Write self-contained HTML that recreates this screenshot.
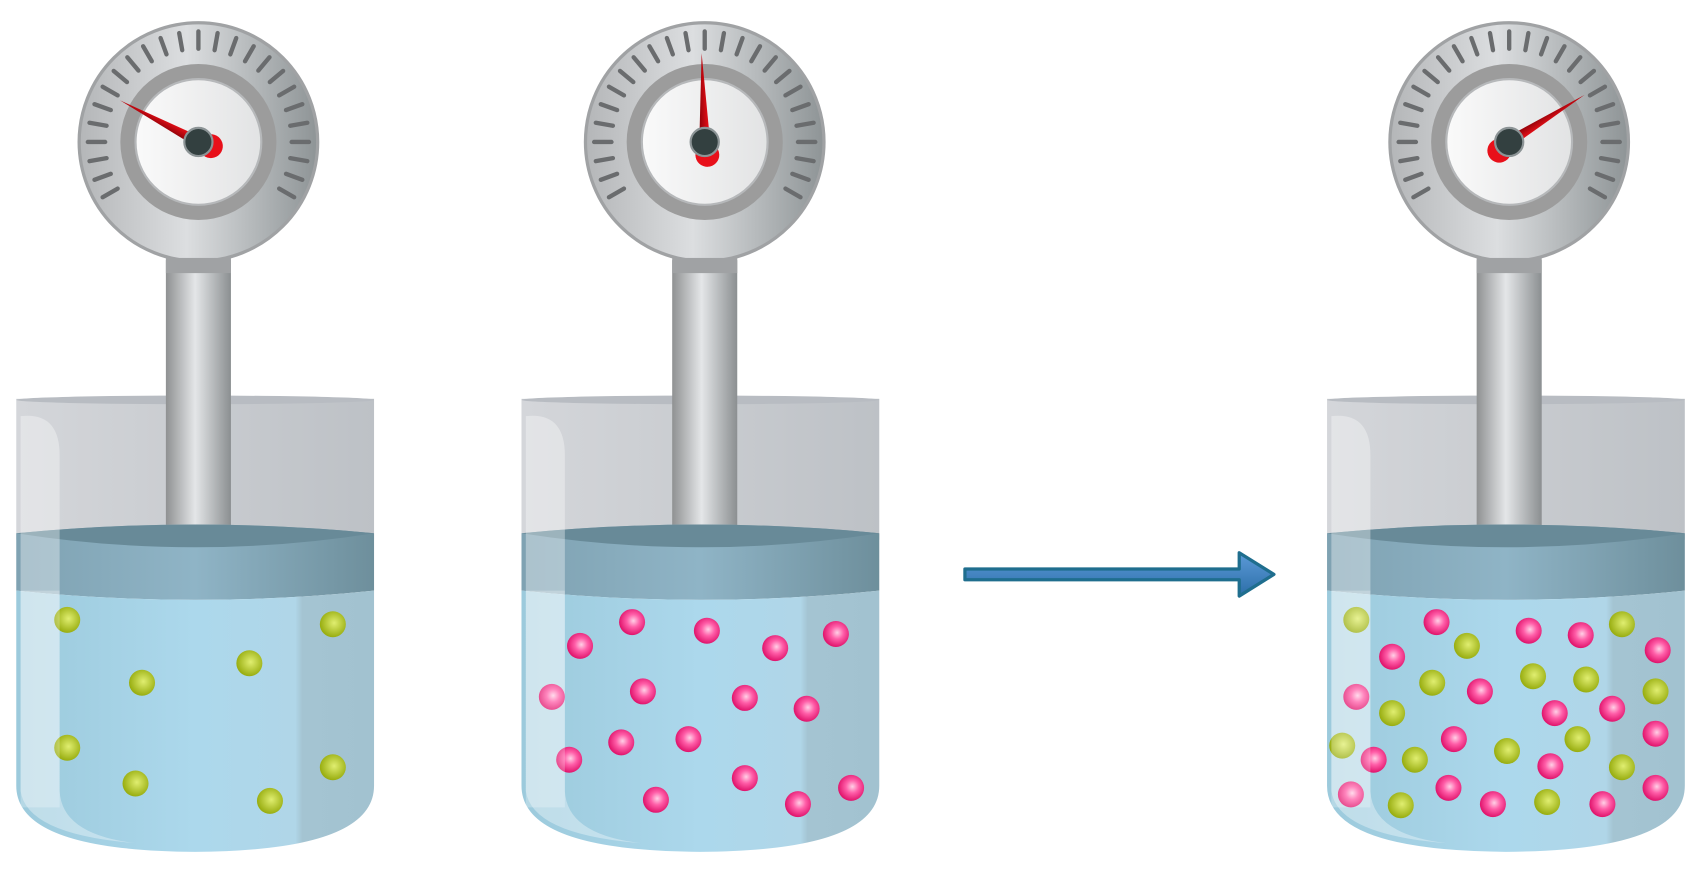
<!DOCTYPE html>
<html><head><meta charset="utf-8"><style>
html,body{margin:0;padding:0;background:#fff;}
svg{display:block;}
</style></head><body>
<svg id="scene" width="1700" height="880" viewBox="0 0 1568 812" preserveAspectRatio="none" xmlns="http://www.w3.org/2000/svg">
<defs>
<linearGradient id="bezel" x1="0" x2="1"><stop offset="0" stop-color="#b4b6b8"/><stop offset="0.45" stop-color="#dcdee0"/><stop offset="1" stop-color="#8e9496"/></linearGradient>
<linearGradient id="face" x1="0" x2="1"><stop offset="0" stop-color="#fafafa"/><stop offset="1" stop-color="#e2e3e4"/></linearGradient>
<linearGradient id="stem" x1="0" x2="1"><stop offset="0" stop-color="#8f9192"/><stop offset="0.45" stop-color="#e4e6e8"/><stop offset="1" stop-color="#8b8f91"/></linearGradient>
<linearGradient id="glass" x1="0" x2="1"><stop offset="0" stop-color="#d4d6da"/><stop offset="0.5" stop-color="#c9ccd0"/><stop offset="1" stop-color="#bdc1c6"/></linearGradient>
<linearGradient id="band" x1="0" x2="1"><stop offset="0" stop-color="#7fa2b2"/><stop offset="0.5" stop-color="#8fb4c6"/><stop offset="1" stop-color="#6e8f9c"/></linearGradient>
<linearGradient id="water" x1="0" x2="1"><stop offset="0" stop-color="#9ccadc"/><stop offset="0.5" stop-color="#acd8ec"/><stop offset="0.78" stop-color="#b0d6e8"/><stop offset="0.8" stop-color="#a4c4d2"/><stop offset="1" stop-color="#a2c2d0"/></linearGradient>
<radialGradient id="gball" cx="0.55" cy="0.45" r="0.55"><stop offset="0" stop-color="#e0ee70"/><stop offset="1" stop-color="#98ad10"/></radialGradient>
<radialGradient id="pball" cx="0.55" cy="0.45" r="0.55"><stop offset="0" stop-color="#ffd0e6"/><stop offset="0.45" stop-color="#ff5ea8"/><stop offset="1" stop-color="#e0146c"/></radialGradient>
<linearGradient id="needle" x1="0" x2="1"><stop offset="0" stop-color="#8a0008"/><stop offset="1" stop-color="#ee1018"/></linearGradient>
<linearGradient id="arrowg" x1="0" x2="0" y1="0" y2="1"><stop offset="0" stop-color="#5c9ad8"/><stop offset="1" stop-color="#2c6ea8"/></linearGradient>
</defs>
<g id="layer"></g>
</svg>
<script>
const NS='http://www.w3.org/2000/svg';
const beakerX=[15,481,1224];
const gaugeCx=[183,650,1392];
const needleAngles=[-62,-2,58];
const greenB1=[[62,572],[307,576],[131,630],[230,612],[62,690],[307,708],[125,723],[249,739]];
const pinkB2=[[535,596],[583,574],[652,582],[715,598],[771,585],[509,643],[593,638],[687,644],[744,654],[573,685],[635,682],[525,701],[687,718],[605,738],[736,742],[785,727]];
const greenB3=[[1251,572],[1353,596],[1496,576],[1321,630],[1414,624],[1463,627],[1527,638],[1284,658],[1238,688],[1305,701],[1390,693],[1455,682],[1496,708],[1292,743],[1427,740]];
const pinkB3=[[1325,574],[1410,582],[1458,586],[1529,600],[1284,606],[1365,638],[1251,643],[1434,658],[1487,654],[1527,677],[1341,682],[1267,701],[1430,707],[1246,733],[1336,727],[1377,742],[1478,742],[1527,727]];
const layer=document.getElementById('layer');
function el(tag,attrs,parent){const e=document.createElementNS(NS,tag);for(const k in attrs)e.setAttribute(k,attrs[k]);(parent||layer).appendChild(e);return e;}

function beaker(i){
  const x=beakerX[i],w=330,cx=gaugeCx[i];
  const g=el('g',{});
  
  
  // glass upper
  el('rect',{x:x,y:368,width:w,height:130,fill:'url(#glass)'},g);
  el('ellipse',{cx:x+w/2,cy:369,rx:w/2,ry:4,fill:'#b8bcc2'},g);
  // stem
  const s=el('rect',{x:cx-30,y:240,width:60,height:252,fill:'url(#stem)'},g);
  // band
  el('path',{d:`M${x} 492 Q${x+w/2} 476 ${x+w} 492 L${x+w} 545 Q${x+w/2} 562 ${x} 545 Z`,fill:'url(#band)'},g);
  el('path',{d:`M${x} 492 Q${x+w/2} 476 ${x+w} 492 Q${x+w/2} 518 ${x} 492 Z`,fill:'#688a98'},g);
  // water
  el('path',{d:`M${x} 545 Q${x+w/2} 562 ${x+w} 545 L${x+w} 725 Q${x+w} 785 ${x+w/2} 786 Q${x} 785 ${x} 725 Z`,fill:'url(#water)'},g);
  // highlight
  el('path',{d:`M${x+4} 384 Q${x+40} 380 ${x+40} 420 L${x+40} 730 Q${x+42} 770 ${x+110} 778 Q${x+10} 770 ${x+4} 730 Z`,fill:'#ffffff',opacity:0.35},g);
  return g;
}
function gauge(i){
  const cx=gaugeCx[i],cy=131;
  const g=el('g',{});
  
  
  el('circle',{cx:cx,cy:cy,r:110,fill:'url(#bezel)',stroke:'#a0a2a4','stroke-width':3},g);
  for(let a=-120;a<=120;a+=10){
    const r=a*Math.PI/180;
    el('line',{x1:cx+86*Math.sin(r),y1:cy-86*Math.cos(r),x2:cx+102*Math.sin(r),y2:cy-102*Math.cos(r),stroke:'#6a6c6e','stroke-width':4,'stroke-linecap':'round'},g);
  }
  el('circle',{cx:cx,cy:cy,r:72,fill:'#9c9c9c'},g);
  el('circle',{cx:cx,cy:cy,r:58,fill:'url(#face)',stroke:'#b6b8ba','stroke-width':2},g);
  const a=needleAngles[i];
  const n=el('g',{transform:`rotate(${a} ${cx} ${cy})`},g);
  
  
  el('path',{d:`M${cx-5} ${cy} L${cx} ${cy-82} L${cx+5} ${cy} Z`,fill:'url(#needle)'},n);
  el('circle',{cx:cx+2,cy:cy+12,r:11,fill:'#e8101a'},n);
  el('circle',{cx:cx,cy:cy,r:13,fill:'#334040',stroke:'#8c9496','stroke-width':2},g);
  el('rect',{x:cx-30,y:238,width:60,height:14,fill:'#a0a2a4'},g);
}
function balls(list,grad,name){
  list.forEach((p,k)=>{
    const c=el('circle',{cx:p[0],cy:p[1],r:12,fill:grad});
    
    
  });
}
[0,1,2].forEach(i=>beaker(i));
[0,1,2].forEach(i=>gauge(i));
balls(greenB1,'url(#gball)','gas-a-particle-b1');
balls(pinkB2,'url(#pball)','gas-b-particle-b2');
balls(greenB3,'url(#gball)','gas-a-particle-b3');
balls(pinkB3,'url(#pball)','gas-b-particle-b3');
// glass left-edge overlay on particles
[0,1,2].forEach(i=>{const x=beakerX[i];el('rect',{x:x+4,y:545,width:36,height:200,fill:'#fff',opacity:0.25});});
const ar=el('path',{d:'M890 525 L1143 525 L1143 510 L1175 530 L1143 550 L1143 535 L890 535 Z',fill:'url(#arrowg)',stroke:'#1f6e8e','stroke-width':3,'stroke-linejoin':'round'});


</script>
</body></html>
